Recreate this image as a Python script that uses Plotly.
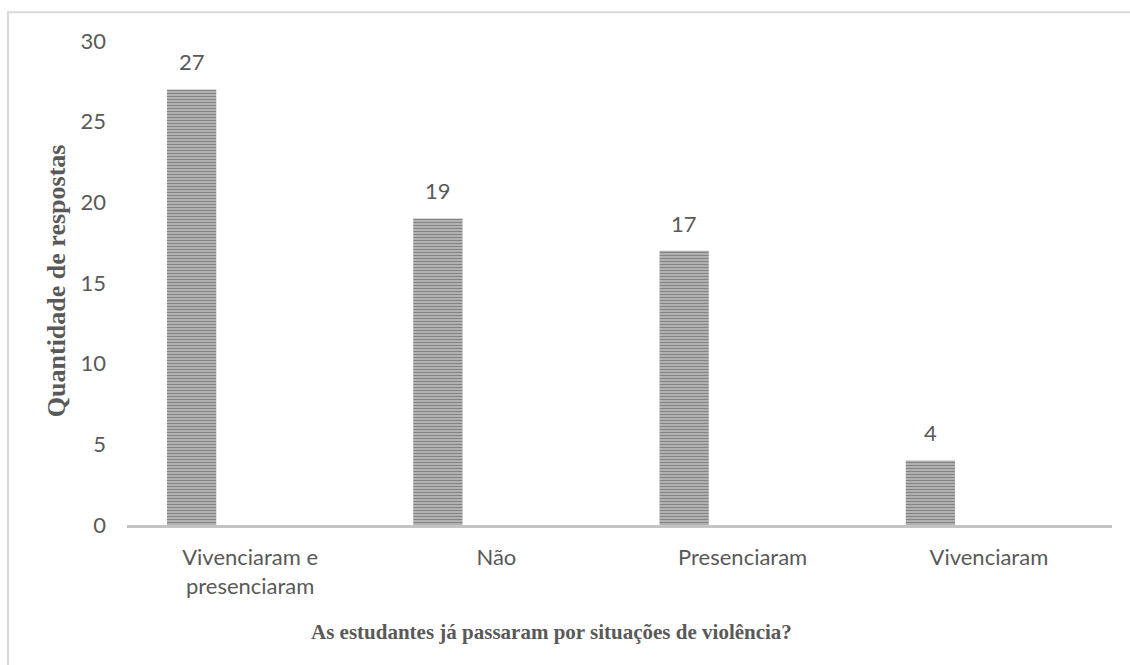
import plotly.graph_objects as go

categories = ["Vivenciaram e presenciaram", "Não", "Presenciaram", "Vivenciaram"]
tick_labels = ["Vivenciaram e<br>presenciaram", "Não", "Presenciaram", "Vivenciaram"]
values = [27, 19, 17, 4]
y_ticks = [0, 5, 10, 15, 20, 25, 30]

GRAY_TXT = "#595959"
TICK_FONT = dict(family="Lato, 'Open Sans', sans-serif", size=22, color=GRAY_TXT)
XTITLE_FONT = dict(family="'Liberation Serif', 'Times New Roman', serif", size=21, color=GRAY_TXT)
YTITLE_FONT = dict(family="'Liberation Serif', 'Times New Roman', serif", size=26, color=GRAY_TXT)

BAR_W = 0.2
BAR_OFF = -0.3375
CAT_PX = 985 / 4

fig = go.Figure()
fig.add_trace(go.Bar(
    x=categories, y=values,
    width=BAR_W, offset=BAR_OFF,
    marker=dict(
        color="#bcbcbc",
        line=dict(width=0),
        pattern=dict(shape="-", size=3, fgcolor="#4a4a4a", bgcolor="#bfbfbf", solidity=0.5, fillmode="overlay"),
    ),
    showlegend=False, hoverinfo="x+y",
))

for c, v in zip(categories, values):
    fig.add_annotation(
        x=c, y=v, text=str(v), showarrow=False,
        xanchor="center", yanchor="bottom",
        xshift=(BAR_OFF + BAR_W / 2) * CAT_PX, yshift=12,
        font=TICK_FONT,
    )

fig.add_annotation(
    x=(551.7 - 127) / 985, y=(525 - 632) / 484.3, xref="paper", yref="paper",
    text="<b>As estudantes já passaram por situações de violência?</b>",
    showarrow=False, xanchor="center", yanchor="middle", font=XTITLE_FONT,
)
fig.add_annotation(
    x=(56 - 127) / 985, y=(525 - 281) / 484.3, xref="paper", yref="paper",
    text="<b>Quantidade de respostas</b>", textangle=-90,
    showarrow=False, xanchor="center", yanchor="middle", font=YTITLE_FONT,
)

fig.add_shape(
    type="rect", xref="paper", yref="paper",
    x0=(8 - 127) / 985, x1=1.2, y0=-0.5, y1=(525 - 12) / 484.3,
    line=dict(color="#d9d9d9", width=2), fillcolor="rgba(0,0,0,0)", layer="below",
)

fig.update_layout(
    width=1130, height=665,
    margin=dict(l=127, r=18, t=41, b=140),
    paper_bgcolor="white", plot_bgcolor="white",
    xaxis=dict(
        type="category", range=[-0.5, 3.5],
        tickvals=categories, ticktext=tick_labels,
        showgrid=False, zeroline=False,
        showline=True, linecolor="#c4c4c4", linewidth=3,
        ticks="", tickfont=TICK_FONT, ticklabelstandoff=11,
    ),
    yaxis=dict(
        range=[0, 30], tickvals=y_ticks,
        showgrid=False, zeroline=False, showline=False,
        ticks="", tickfont=TICK_FONT, ticklabelstandoff=20,
    ),
)

fig.write_html("out.html")
